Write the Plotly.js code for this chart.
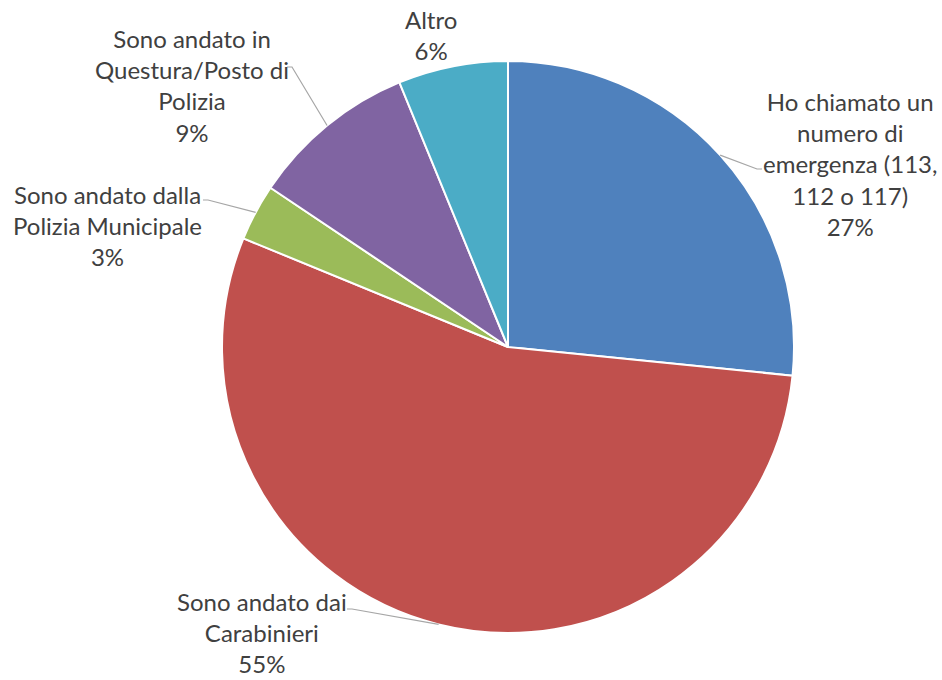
<!DOCTYPE html>
<html>
<head>
<meta charset="utf-8">
<script src="https://cdn.plot.ly/plotly-3.0.1.min.js"></script>
<style>html,body{margin:0;padding:0;background:#fff;}#chart{width:942px;height:680px;}</style>
</head>
<body>
<div id="chart"></div>
<script>
// ---- data ----
const categories = [
  "Ho chiamato un numero di emergenza (113, 112 o 117)",
  "Sono andato dai Carabinieri",
  "Sono andato dalla Polizia Municipale",
  "Sono andato in Questura/Posto di Polizia",
  "Altro"
];
const values = [26.6, 54.6, 3.2, 9.4, 6.2];
const labelLines = [
  ["Ho chiamato un", "numero di", "emergenza (113,", "112 o 117)"],
  ["Sono andato dai", "Carabinieri"],
  ["Sono andato dalla", "Polizia Municipale"],
  ["Sono andato in", "Questura/Posto di", "Polizia"],
  ["Altro"]
];
const colors = ["#4F81BD", "#C0504D", "#9BBB59", "#8064A2", "#4BACC6"];

// ---- layout constants (pixels) ----
const W = 942, H = 680;
const mT = 61, mB = 47;
const cx = 508, cy = 347, R = 286;
const labelPos = [[850, 164], [262, 632], [107, 226], [192, 85], [431, 35]];
const elbow = [[757, 169], [352, 609], [208, 200], [292, 67], null];
const tail  = [[762, 169], [347, 609], [203, 200], [287, 67], null];

const plotH = H - mT - mB;
const px2x = x => x / W;
const px2y = y => (H - mB - y) / plotH;

const total = values.reduce((a, b) => a + b, 0);
const pctText = values.map(v => Math.round(v / total * 100) + "%");

const annotations = [];
const shapes = [];
let cum = 0;
values.forEach((v, i) => {
  const mid = (cum + v / 2) / total * 2 * Math.PI;
  cum += v;
  const ex = cx + R * Math.sin(mid), ey = cy - R * Math.cos(mid);
  annotations.push({
    xref: "paper", yref: "paper",
    x: px2x(labelPos[i][0]), y: px2y(labelPos[i][1]),
    xanchor: "center", yanchor: "middle",
    text: labelLines[i].concat([pctText[i]]).join("<br>"),
    showarrow: false, align: "center",
    font: {family: "Lato, 'Open Sans', sans-serif", size: 24, color: "#404040"}
  });
  if (elbow[i]) {
    shapes.push({
      type: "path", xref: "paper", yref: "paper",
      path: "M " + px2x(ex) + " " + px2y(ey) +
            " L " + px2x(elbow[i][0]) + " " + px2y(elbow[i][1]) +
            " L " + px2x(tail[i][0]) + " " + px2y(tail[i][1]),
      line: {color: "#A6A6A6", width: 1.2}
    });
  }
});

const trace = {
  type: "pie",
  labels: categories,
  values: values,
  marker: {colors: colors, line: {color: "#FFFFFF", width: 2}},
  sort: false,
  direction: "clockwise",
  rotation: 0,
  textinfo: "none",
  hoverinfo: "none",
  domain: {x: [(cx - R) / W, (cx + R) / W], y: [0, 1]}
};

const layout = {
  width: W, height: H,
  margin: {l: 0, r: 0, t: mT, b: mB, pad: 0},
  showlegend: false,
  paper_bgcolor: "#FFFFFF",
  plot_bgcolor: "#FFFFFF",
  annotations: annotations,
  shapes: shapes
};

Plotly.newPlot("chart", [trace], layout, {staticPlot: true, displayModeBar: false});
</script>
</body>
</html>
